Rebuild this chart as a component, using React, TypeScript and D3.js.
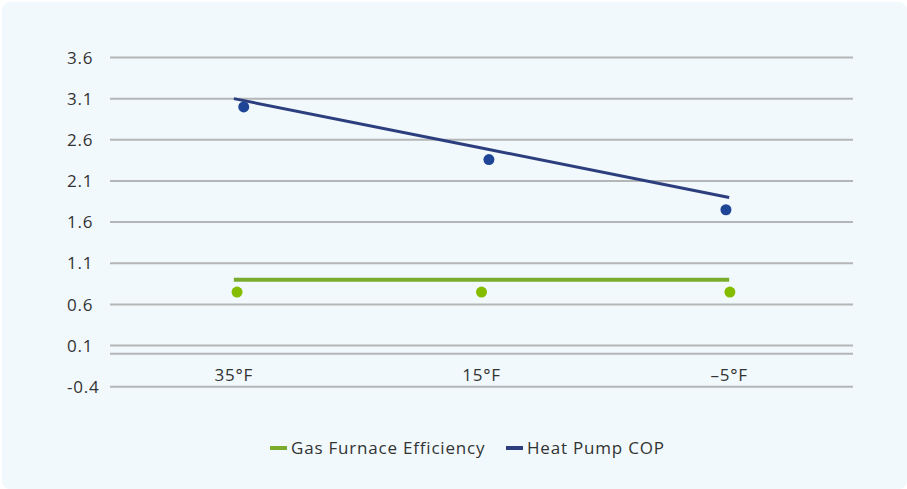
import React from 'react';
import * as d3 from 'd3';

// chart data
const categories = ['35°F', '15°F', '–5°F'];
const yTicks = [3.6, 3.1, 2.6, 2.1, 1.6, 1.1, 0.6, 0.1, -0.4];

const heatPumpCOP = [3.0, 2.36, 1.75];
const heatPumpTrend = [3.1, 2.5, 1.9];
const heatPumpDotX = [0.04, 0.03, -0.013];

const gasFurnace = [0.75, 0.75, 0.75];
const gasFurnaceLine = [0.9, 0.9, 0.9];
const gasDotX = [0.013, 0, 0.003];

const legendItems = [
  { label: 'Gas Furnace Efficiency', color: '#7aab2c' },
  { label: 'Heat Pump COP', color: '#2d3e7e' },
];

export default () => {
  const width = 907;
  const height = 489;
  const font = "'Open Sans', sans-serif";
  const fontSize = 17;
  const spacing = 0.8;

  const x = d3.scaleLinear().domain([-0.5, 2.5]).range([110, 853]);
  const y = d3.scaleLinear().domain([-0.4, 3.6]).range([386.7, 57.5]);

  const line = d3.line<number>()
    .x((_, i) => x(i))
    .y(d => y(d));

  const legendX = [270, 506];

  return (
    <div style={{ position: 'absolute', left: 0, top: 0 }}>
      <svg width={width} height={height} style={{ display: 'block' }}>
        <rect x={0} y={0} width={width} height={height} fill="#ffffff" />
        <rect x={2} y={2} width={width - 2} height={height - 2} rx={8} fill="#f1f9fc" />

        {/* grid */}
        {yTicks.map(t => (
          <g key={t}>
            <line x1={110} x2={853} y1={y(t)} y2={y(t)} stroke="#b4b6b7" strokeWidth={2} />
            <text x={67} y={y(t)} dy="0.36em" fontFamily={font} fontSize={fontSize}
              letterSpacing={spacing} fill="#333">
              {t.toFixed(1)}
            </text>
          </g>
        ))}
        <line x1={110} x2={853} y1={y(0)} y2={y(0)} stroke="#b4b6b7" strokeWidth={2} />

        {categories.map((c, i) => (
          <text key={c} x={x(i)} y={381} textAnchor="middle" fontFamily={font} fontSize={fontSize}
            letterSpacing={spacing} fill="#333">
            {c}
          </text>
        ))}

        {/* lines */}
        <path d={line(gasFurnaceLine) || ''} fill="none" stroke="#7aab2c" strokeWidth={4} />
        <path d={line(heatPumpTrend) || ''} fill="none" stroke="#2d3e7e" strokeWidth={3} />

        {/* points */}
        {gasFurnace.map((v, i) => (
          <circle key={'g' + i} cx={x(i + gasDotX[i])} cy={y(v)} r={5.5} fill="#84bd00" />
        ))}
        {heatPumpCOP.map((v, i) => (
          <circle key={'h' + i} cx={x(i + heatPumpDotX[i])} cy={y(v)} r={5.5} fill="#1f4596" />
        ))}

        {/* legend */}
        {legendItems.map((item, i) => (
          <g key={item.label} transform={`translate(${legendX[i]},448)`}>
            <rect x={0} y={-2} width={17} height={4} fill={item.color} />
            <text x={21} y={0} dy="0.36em" fontFamily={font} fontSize={fontSize}
              letterSpacing={spacing} fill="#333">{item.label}</text>
          </g>
        ))}
      </svg>
    </div>
  );
};
